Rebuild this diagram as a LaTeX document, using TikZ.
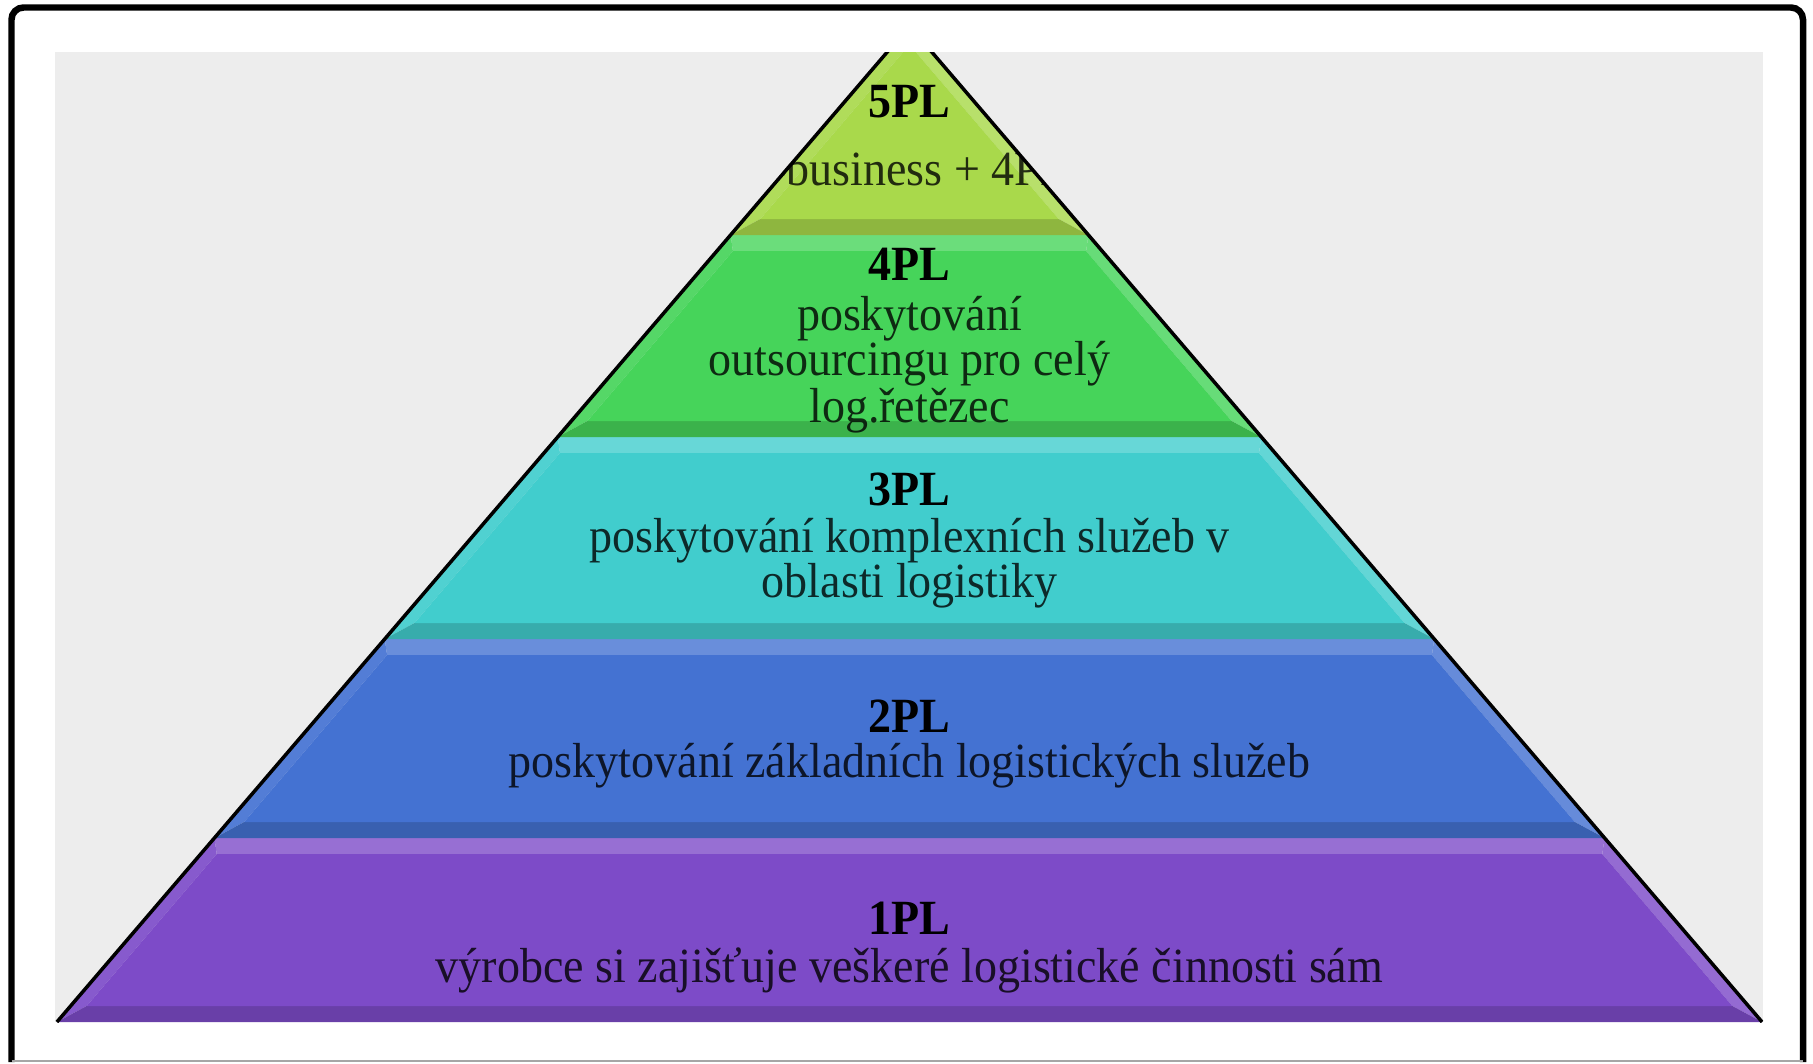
\documentclass[tikz,border=0pt]{standalone}
\usepackage{fontspec}
\setmainfont{Liberation Serif}[FakeStretch=0.935]
\definecolor{bggray}{HTML}{EDEDED}
\definecolor{plone}{HTML}{7D4BC8}
\definecolor{pltwo}{HTML}{4472D2}
\definecolor{plthree}{HTML}{41CDCD}
\definecolor{plfour}{HTML}{46D45A}
\definecolor{plfive}{HTML}{A9D94B}
\tikzset{
  pltitle/.style={font=\fontsize{14}{13.3}\selectfont\bfseries, anchor=base, inner sep=0pt},
  pldesc/.style={font=\fontsize{14}{13.3}\selectfont, anchor=base, inner sep=0pt, text opacity=0.8},
}
\begin{document}
\begin{tikzpicture}[x=0.1mm, y=-0.1mm]
        % pyramid geometry, in pixels of the slide
        \def\cx{909.5}
        \def\apex{26}
        \def\slope{0.856}
        \def\bev{16}
        \useasboundingbox (0,0) rectangle (1813,1064);
        \fill[white] (0,0) rectangle (1813,1064);
        % slide area
        \fill[bggray] (55,52) rectangle (1763,1022);
        \begin{scope}
            \clip (55,52) rectangle (1763,1022);
            % five layers with bevelled edges
            \foreach \yt/\yb/\col in {838/1022/plone, 639/838/pltwo, 437/639/plthree, 235/437/plfour, 26/235/plfive} {
                \pgfmathsetmacro\wt{\slope*(\yt-\apex)}
                \pgfmathsetmacro\wb{\slope*(\yb-\apex)}
                \pgfmathsetmacro\yi{max(\yt+\bev,\apex+\bev/\slope+3)}
                \pgfmathsetmacro\yj{\yb-\bev}
                \pgfmathsetmacro\wi{\slope*(\yi-\apex)-\bev}
                \pgfmathsetmacro\wj{\slope*(\yj-\apex)-\bev}
                \fill[\col!80!white] (\cx-\wt,\yt) -- (\cx+\wt,\yt) -- (\cx+\wi,\yi) -- (\cx-\wi,\yi) -- cycle;
                \fill[\col!92!white] (\cx-\wt,\yt) -- (\cx-\wi,\yi) -- (\cx-\wj,\yj) -- (\cx-\wb,\yb) -- cycle;
                \fill[\col!82!white] (\cx+\wt,\yt) -- (\cx+\wi,\yi) -- (\cx+\wj,\yj) -- (\cx+\wb,\yb) -- cycle;
                \fill[\col!84!black] (\cx-\wj,\yj) -- (\cx+\wj,\yj) -- (\cx+\wb,\yb) -- (\cx-\wb,\yb) -- cycle;
                \fill[\col] (\cx-\wi,\yi) -- (\cx+\wi,\yi) -- (\cx+\wj,\yj) -- (\cx-\wj,\yj) -- cycle;
            }
            % top text is cut by the triangle
            \begin{scope}
                \clip (\cx-178.9,235) -- (\cx,\apex) -- (\cx+178.9,235) -- cycle;
                \node[pldesc] (pl5b) at (\cx,185) {e-business + 4PL};
            \end{scope}
            % black sides
            \draw[line width=1pt] (\cx-852.6,1022) -- (\cx,\apex) -- (\cx+852.6,1022);
        \end{scope}

        % labels
        \node[pltitle] (pl5) at (\cx,117) {5PL};
        \node[pltitle] (pl4) at (\cx,280) {4PL};
        \node[pldesc] (pl4a) at (\cx,330) {poskytování};
        \node[pldesc] (pl4b) at (\cx,375) {outsourcingu pro celý};
        \node[pldesc] (pl4c) at (\cx,422) {log.řetězec};
        \node[pltitle] (pl3) at (\cx,505) {3PL};
        \node[pldesc] (pl3a) at (\cx,552) {poskytování komplexních služeb v};
        \node[pldesc] (pl3b) at (\cx,597) {oblasti logistiky};
        \node[pltitle] (pl2) at (\cx,732) {2PL};
        \node[pldesc] (pl2a) at (\cx,777) {poskytování základních logistických služeb};
        \node[pltitle] (pl1) at (\cx,934) {1PL};
        \node[pldesc] (pl1a) at (\cx,982) {výrobce si zajišťuje veškeré logistické činnosti sám};

        % frame
        \draw[line width=0.65mm, rounded corners=1.2mm] (11.5,1062) -- (11.5,7.5) -- (1803,7.5) -- (1803,1062);
        \draw[gray!70, line width=0.25mm] (11.5,1061) -- (1803,1061);
    \end{tikzpicture}
\end{document}
